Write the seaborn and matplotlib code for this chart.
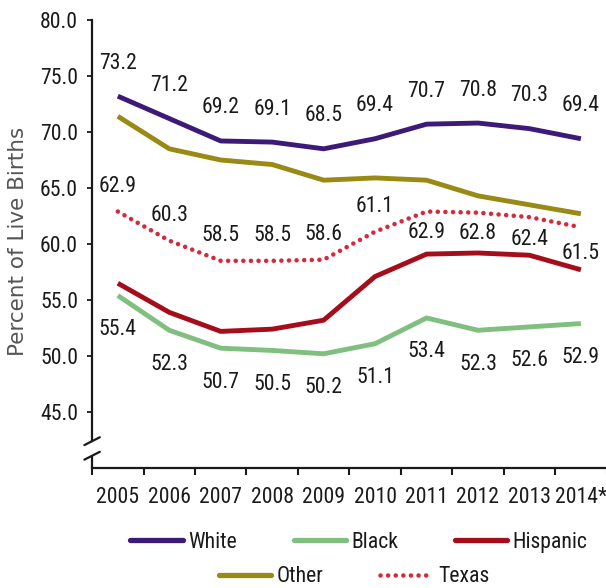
import os
import matplotlib
matplotlib.use("Agg")
import matplotlib.pyplot as plt
from matplotlib import font_manager
from matplotlib.font_manager import FontProperties
from matplotlib.textpath import TextPath
from matplotlib.lines import Line2D
from matplotlib.ticker import FixedLocator, FormatStrFormatter
import numpy as np
import pandas as pd
import seaborn as sns

# Share of live births by mother's race/ethnicity, 2005-2014
years = ["2005", "2006", "2007", "2008", "2009", "2010", "2011", "2012", "2013", "2014*"]
white = [73.2, 71.2, 69.2, 69.1, 68.5, 69.4, 70.7, 70.8, 70.3, 69.4]
black = [55.4, 52.3, 50.7, 50.5, 50.2, 51.1, 53.4, 52.3, 52.6, 52.9]
hispanic = [56.5, 53.9, 52.2, 52.4, 53.2, 57.1, 59.1, 59.2, 59.0, 57.7]
other = [71.4, 68.5, 67.5, 67.1, 65.7, 65.9, 65.7, 64.3, 63.5, 62.7]
texas = [62.9, 60.3, 58.5, 58.5, 58.6, 61.1, 62.9, 62.8, 62.4, 61.5]
y_ticks = [45, 50, 55, 60, 65, 70, 75, 80]

sns.set_style("white")
plt.rcParams["font.family"] = ["Liberation Sans", "DejaVu Sans"]


def pick_narrow_font():
    """Return a regular-weight condensed sans face if one is installed."""
    bad = ("bold", "italic", "oblique", "light", "thin", "medium", "black", "semi", "extra")
    found = []
    for f in font_manager.fontManager.ttflist:
        base = os.path.basename(f.fname).lower()
        tag = (f.name + " " + base).lower()
        if not ("narrow" in tag or "condensed" in tag):
            continue
        stem = base.replace("condensed", "").replace("narrow", "")
        if any(b in stem for b in bad) or f.style != "normal":
            continue
        found.append(f)
    pref = ["liberation sans narrow", "roboto condensed", "open sans", "noto sans", "dejavu sans"]

    def rank(f):
        n = f.name.lower()
        for i, p in enumerate(pref):
            if n.startswith(p):
                return i
        return len(pref)

    found.sort(key=rank)
    if found:
        return FontProperties(fname=found[0].fname)
    return FontProperties(family="Liberation Sans")


fp_base = pick_narrow_font()


def fitted_size(fp, text="2005", width_px=41.0, height_px=16.0):
    probe = fp.copy()
    probe.set_size(10)
    w = TextPath((0, 0), text, prop=probe).get_extents().width * 100 / 72
    h = TextPath((0, 0), "0", prop=probe).get_extents().height * 100 / 72
    return 10 * np.sqrt((width_px / w) * (height_px / h))


base_size = float(np.clip(fitted_size(fp_base), 12, 17))
fp = fp_base.copy()
fp.set_size(base_size)
fp_leg = fp_base.copy()
fp_leg.set_size(base_size)

ink = "#1a1a1a"
colors = {
    "White": "#3d1a78",
    "Black": "#80bf80",
    "Hispanic": "#a50d1a",
    "Other": "#988a14",
    "Texas": "#d42a3c",
}
texas_dots = (0, (0.01, 1.65))
texas_lw = 3.3

fig = plt.figure(figsize=(6.06, 5.88), dpi=100)
ax = fig.add_axes([0.152, 0.204, 0.849, 0.762])

x = np.arange(len(years))
series = {"White": white, "Black": black, "Hispanic": hispanic, "Other": other, "Texas": texas}
order = ["Black", "Hispanic", "Texas", "Other", "White"]
for name in order:
    df = pd.DataFrame({"x": x, "y": series[name]})
    if name == "Texas":
        sns.lineplot(data=df, x="x", y="y", ax=ax, color=colors[name], lw=texas_lw,
                     linestyle=texas_dots, dash_capstyle="round")
    else:
        sns.lineplot(data=df, x="x", y="y", ax=ax, color=colors[name], lw=3.5,
                     solid_capstyle="butt")


def label(vals, offsets):
    for xi, v, off in zip(x, vals, offsets):
        ax.annotate(f"{v:.1f}", (xi, v), xytext=(0, off), textcoords="offset pixels",
                    ha="center", va="center", fontproperties=fp, color=ink)


label(white, [33] * 10)
label(black, [-34] * 10)
label(texas, [25] * 6 + [-21, -21, -22, -26])

# axes
ax.set_xlim(-0.5, 9.5)
ax.set_ylim(40, 80)
ax.set_xlabel("")
ax.set_ylabel("Percent of Live Births", family="DejaVu Sans", fontsize=15.5, color="#555555")
ax.yaxis.set_label_coords(-0.124, 0.505)

ax.yaxis.set_major_locator(FixedLocator(y_ticks))
ax.yaxis.set_major_formatter(FormatStrFormatter("%.1f"))
ax.set_xticks(x)
ax.set_xticklabels(years)
ax.xaxis.set_minor_locator(FixedLocator(np.arange(-0.5, 10, 1.0)))

ax.tick_params(axis="y", which="major", direction="out", length=3.6, width=1.3,
               pad=6.5, colors=ink, left=True)
ax.tick_params(axis="x", which="major", length=0, pad=14, colors=ink, bottom=True)
ax.tick_params(axis="x", which="minor", direction="out", length=5, width=1.5,
               color=ink, bottom=True)
for t in ax.get_xticklabels() + ax.get_yticklabels():
    t.set_fontproperties(fp)

for s in ("top", "right"):
    ax.spines[s].set_visible(False)
for s in ("left", "bottom"):
    ax.spines[s].set_color(ink)
    ax.spines[s].set_linewidth(1.6)
ax.spines["left"].set_bounds(42.4, 80)

# broken-axis marks
ytr = ax.get_yaxis_transform()
ax.plot([0, 0], [40, 41.1], transform=ytr, color=ink, lw=1.6, clip_on=False,
        solid_capstyle="butt")
for yb in (42.4, 41.1):
    ax.plot([-0.015, 0.015], [yb - 0.35, yb + 0.35], transform=ytr, color=ink,
            lw=1.6, clip_on=False)


# legend in two centred rows
def handle(name):
    if name == "Texas":
        return Line2D([], [], color=colors[name], lw=texas_lw, linestyle=texas_dots,
                      dash_capstyle="round")
    return Line2D([], [], color=colors[name], lw=3.8)


leg_kw = dict(frameon=False, prop=fp_leg, handlelength=2.4, handletextpad=0.25,
              columnspacing=2.6, labelcolor=ink, borderaxespad=0, borderpad=0)
row1 = ["White", "Black", "Hispanic"]
row2 = ["Other", "Texas"]
fig.legend([handle(n) for n in row1], row1, ncol=3, loc="center",
           bbox_to_anchor=(359 / 606, 0.078), **leg_kw)
fig.legend([handle(n) for n in row2], row2, ncol=2, loc="center",
           bbox_to_anchor=(354 / 606, 0.019), **leg_kw)

fig.savefig("out.png", dpi=100)
